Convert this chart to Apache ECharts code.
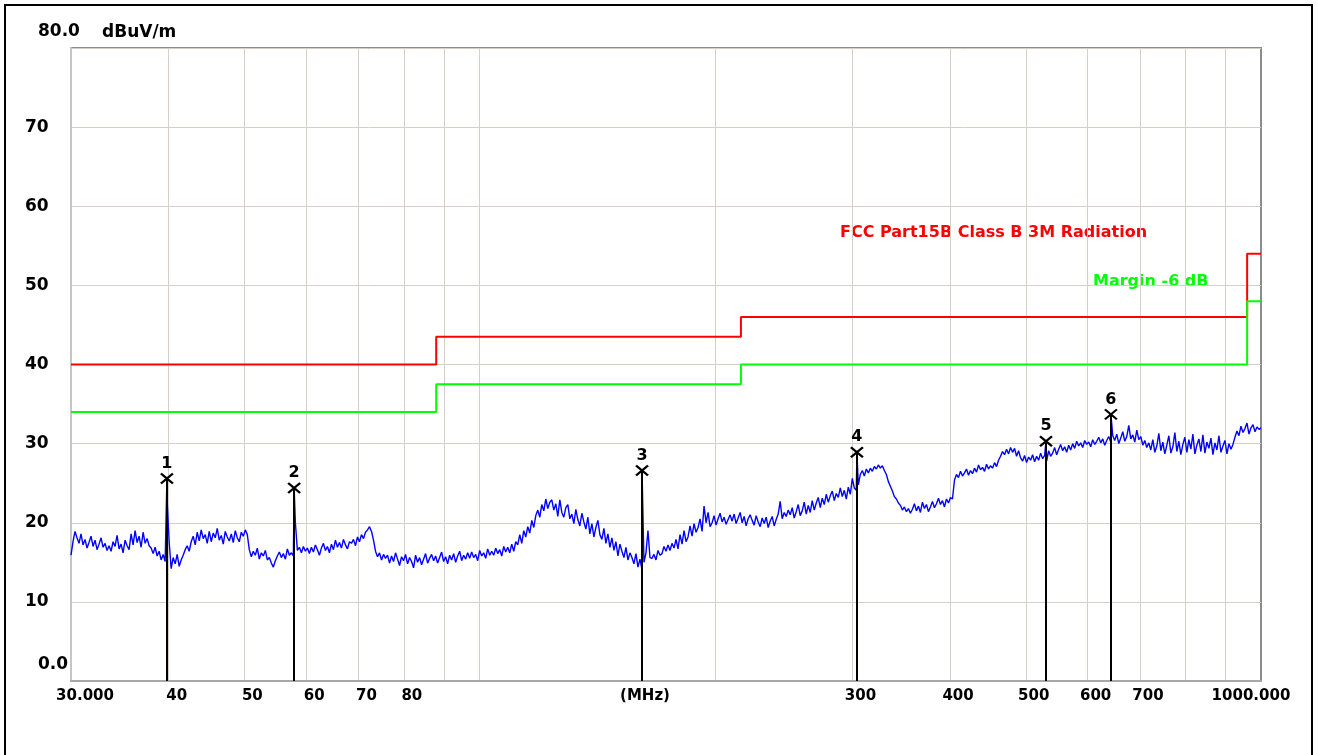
<!DOCTYPE html>
<html>
<head>
<meta charset="utf-8">
<script src="https://cdn.jsdelivr.net/npm/echarts@6/dist/echarts.min.js"></script>
<style>
  html, body { margin: 0; padding: 0; background: #ffffff; }
  #chart { width: 1318px; height: 755px; }
</style>
</head>
<body>
<div id="chart"></div>
<script>
// Receiver sweep: log-spaced points from start to stop frequency (MHz)
const sweepStartMHz = 30;
const sweepStopMHz = 1000;

// Peak-detected field strength along the sweep, dBuV/m
const traceLevels = [
  15.9, 17.6, 18.9, 18.1, 17.4, 18.6, 17.2, 17.9, 16.8, 17.5,
  18.3, 17.0, 17.8, 16.6, 17.3, 18.1, 16.9, 17.4, 16.5, 17.1,
  16.4, 17.6, 17.0, 18.4, 16.7, 17.3, 16.2, 17.8, 17.1, 16.6,
  18.6, 17.2, 19.0, 17.5, 18.3, 16.9, 18.8, 17.4, 18.0, 17.1,
  16.8, 16.1, 16.9, 15.8, 16.4, 15.3, 16.0, 15.1, 22.8, 17.6,
  14.2, 15.6, 14.8, 16.0, 14.5, 15.3, 15.9, 16.6, 17.1, 16.4,
  17.6, 18.3, 17.2, 18.8, 17.7, 19.1, 18.0, 18.5, 17.4, 18.9,
  17.6, 18.7, 18.1, 19.3, 17.8, 18.4, 17.3, 18.9, 18.2, 17.7,
  18.6, 17.5, 19.0, 18.1, 17.6, 18.8, 18.3, 19.1, 18.5, 16.6,
  15.7, 16.4, 15.9, 16.8, 15.4, 16.2, 15.8, 16.5, 15.3, 15.6,
  14.9, 14.4, 15.2, 15.8, 16.3, 15.6, 16.1, 15.4, 16.7, 15.9,
  16.2, 15.8, 20.0, 16.5, 16.9, 16.2, 17.0, 16.4, 16.8, 16.1,
  16.9, 16.3, 17.2, 16.6, 15.9, 16.8, 17.4, 16.5, 17.0, 16.2,
  17.3, 16.6, 17.8, 16.9, 17.5, 16.8, 17.9, 17.2, 16.7, 17.6,
  17.4, 17.9, 17.1, 18.2, 17.6, 18.5, 18.0, 18.8, 19.1, 19.5,
  18.9, 17.8, 16.4, 15.7, 16.2, 15.3, 16.0, 15.5, 15.9, 14.9,
  15.8, 15.1, 16.2, 15.4, 14.6, 15.7, 15.2, 16.0, 14.8, 15.6,
  15.1, 14.3, 15.9, 15.0, 15.6, 14.7, 15.4, 16.1, 14.9, 15.5,
  16.0, 15.2, 15.8, 14.9, 15.6, 16.3, 15.1, 15.7, 14.8, 15.9,
  15.3, 16.1, 15.0, 15.8, 16.4, 15.2, 15.9, 15.4, 16.2, 15.5,
  16.3, 15.6, 16.0, 15.2, 16.5, 15.8, 16.2, 15.5, 16.7, 15.9,
  16.4, 15.9, 16.8, 16.1, 16.6, 15.8, 17.0, 16.3, 16.9, 16.2,
  17.3, 16.4, 17.6, 17.2, 18.5, 17.4, 19.0, 18.2, 19.5, 18.7,
  20.3, 19.4, 20.9, 21.6, 20.7, 22.3, 21.5, 23.0, 21.8, 22.6,
  22.9, 21.6, 22.4, 20.8, 22.9, 21.3, 20.7, 21.9, 22.3, 20.5,
  21.1, 19.9, 21.7, 20.4, 19.6, 21.2, 20.1, 19.2, 20.7, 18.6,
  19.9, 18.2, 19.4, 20.3, 18.5, 17.9, 19.3, 17.4, 18.6, 16.9,
  18.1, 16.5, 17.6, 15.8, 17.3, 16.4, 15.6, 16.9, 15.3, 16.2,
  15.6, 14.8, 16.1, 14.4, 15.4, 14.1, 15.0, 16.2, 19.0, 15.6,
  15.5, 16.0, 15.3, 16.5, 15.9, 16.1, 17.0, 16.4, 17.2, 16.5,
  17.4, 16.8, 17.9, 16.7, 18.5, 17.3, 19.0, 17.6, 18.2, 19.6,
  18.3, 19.9, 18.8, 19.4, 20.5, 18.9, 22.1, 20.0, 21.3, 19.5,
  20.0, 20.9, 19.7, 20.5, 21.2, 20.1, 20.7, 19.8, 20.4, 21.0,
  20.2, 21.1, 19.9, 20.6, 21.3, 20.0, 20.8, 19.6, 20.5, 21.0,
  20.3, 19.7, 20.9, 20.1, 19.5, 20.6, 19.9, 20.7, 19.4, 20.2,
  20.8, 19.6, 20.4, 21.1, 22.7, 20.5, 21.3, 20.8, 21.6, 21.0,
  21.9, 20.6, 21.4, 22.3, 20.9, 21.5, 22.6, 21.1, 22.2, 21.3,
  22.8, 21.6, 22.5, 23.2, 21.9, 23.1, 22.3, 23.6, 22.6, 23.4,
  24.0, 22.8, 23.7, 23.2, 24.4, 23.3, 24.1, 23.0, 24.5, 23.6,
  25.6, 24.4, 24.1, 24.8, 26.1, 26.6, 25.9, 26.8, 26.3, 26.9,
  26.5, 27.1, 26.8, 27.3, 26.9, 27.2, 26.6, 26.1, 25.2, 24.6,
  24.0, 23.3, 23.0, 22.5, 22.2, 21.6, 22.0, 21.4, 21.8, 21.2,
  21.7, 22.4, 21.5, 22.1, 21.3, 22.6, 21.8, 22.3, 21.4, 22.0,
  22.7, 21.9, 22.4, 23.1, 22.3, 22.8, 22.0, 23.0, 22.5, 23.2,
  23.0, 25.4, 26.1, 25.7, 26.5, 25.9, 26.3, 26.8, 26.0, 26.6,
  26.2, 26.9, 26.4, 27.3, 26.7, 27.0, 26.5, 27.4, 26.8, 27.2,
  26.9, 27.6, 27.1, 27.9, 28.4, 29.0, 28.6, 29.3, 28.7, 29.5,
  28.9, 29.4, 28.4, 29.1, 28.2, 27.8, 28.5, 27.6, 28.3, 27.9,
  28.6, 27.7, 28.4, 27.9, 28.8, 28.1, 28.5, 27.8, 29.1, 28.4,
  28.8, 29.5, 28.6, 29.3, 29.9, 29.1, 29.6, 28.9, 29.8, 29.2,
  30.0, 29.4, 30.3, 29.7, 30.1, 29.5, 30.4, 29.9, 30.2, 29.6,
  30.5, 29.9, 30.3, 30.8, 30.1, 30.6, 29.8, 30.4, 30.9, 30.2,
  31.0, 30.4, 31.2, 30.0, 30.7, 31.5, 30.3, 30.9, 32.3, 30.6,
  31.1, 30.2, 31.7, 30.5, 30.9, 29.8, 30.4, 29.5, 30.1, 29.2,
  30.5, 28.9, 29.7, 31.3, 29.1, 30.2, 28.7, 29.8, 31.0, 28.8,
  29.6, 31.4, 29.0, 30.3, 28.6, 29.9, 30.8, 28.9, 30.5, 29.3,
  31.2, 28.7, 29.8, 30.6, 29.0, 31.1, 28.8, 30.2, 29.4, 30.7,
  28.6, 30.1, 29.2, 31.0, 28.9, 29.7, 30.4, 28.7, 30.0, 29.3,
  29.9, 30.8, 31.6, 31.0, 32.2, 31.4, 31.9, 32.6, 31.2, 32.0,
  32.4, 31.5, 32.1, 31.8, 32.0
];

// Peak markers: frequency (MHz), level (dBuV/m), label
const markerFreqs = [39.8, 57.9, 161.4, 304.0, 530.7, 642.6];
const markerLevels = [25.6, 24.4, 26.6, 28.9, 30.3, 33.7];
const markerNames = ['1', '2', '3', '4', '5', '6'];

// FCC Part 15B Class B, 3 m: band edges (MHz) and limit per band (dBuV/m)
const limitEdgesMHz = [30, 88, 216, 960, 1000];
const limitLevels = [40, 43.5, 46, 54];
const marginDb = -6;

// Axis ticks
const yTickMin = 0;
const yTickMax = 80;
const yTickStep = 10;
const xGridValues = [40, 50, 60, 70, 80, 90, 100, 200, 300, 400, 500, 600, 700, 800, 900];
const xLabelValues = [30, 40, 50, 60, 70, 80, 300, 400, 500, 600, 700, 1000];
const xLabelTexts = ['30.000', '40', '50', '60', '70', '80', '300', '400', '500', '600', '700', '1000.000'];

// ---- build series data ----
const n = traceLevels.length;
const sweepPoints = traceLevels.map((v, i) => [
  sweepStartMHz * Math.pow(sweepStopMHz / sweepStartMHz, i / (n - 1)), v
]);
const markerPoints = markerFreqs.map((f, i) => [f, markerLevels[i]]);
const tracePoints = sweepPoints.concat(markerPoints).sort((a, b) => a[0] - b[0]);

function stepLine(offset) {
  const pts = [];
  limitLevels.forEach((lv, i) => {
    pts.push([limitEdgesMHz[i], lv + offset]);
    pts.push([limitEdgesMHz[i + 1], lv + offset]);
  });
  return pts;
}

const FONT = 'DejaVu Sans';
const labelFor = {};
xLabelValues.forEach((v, i) => { labelFor[v] = xLabelTexts[i]; });

const chart = echarts.init(document.getElementById('chart'), null, { renderer: 'canvas' });

chart.setOption({
  animation: false,
  backgroundColor: '#ffffff',
  grid: {
    left: 71, right: 57, top: 48, bottom: 74,
    show: true, borderColor: '#8c8c8c', borderWidth: 2,
    outerBoundsMode: 'none'
  },
  xAxis: {
    type: 'log', logBase: 10, min: sweepStartMHz, max: sweepStopMHz,
    axisLine: { show: true, onZero: false, lineStyle: { color: '#a8a8a8', width: 2 } },
    axisTick: { show: false, customValues: xGridValues },
    splitLine: { show: true, lineStyle: { color: '#d4d0c8', width: 1 } },
    axisLabel: {
      customValues: xLabelValues,
      margin: 8,
      color: '#000', fontFamily: FONT, fontWeight: 'bold', fontSize: 15,
      formatter: function (v) {
        const key = Math.round(v);
        const t = labelFor[key] || String(key);
        if (key === sweepStartMHz) return '{first|' + t + '}';
        if (key === sweepStopMHz) return '{last|' + t + '}';
        return '{mid|' + t + '}';
      },
      rich: {
        first: { padding: [0, 0, 0, 28], color: '#000', fontFamily: FONT, fontWeight: 'bold', fontSize: 15 },
        last: { padding: [0, 20, 0, 0], color: '#000', fontFamily: FONT, fontWeight: 'bold', fontSize: 15 },
        mid: { padding: [0, 0, 0, 16], color: '#000', fontFamily: FONT, fontWeight: 'bold', fontSize: 15 }
      }
    },
    name: '(MHz)', nameLocation: 'middle', nameGap: 8, nameMoveOverlap: false,
    nameTextStyle: { color: '#000', fontFamily: FONT, fontWeight: 'bold', fontSize: 15, padding: [0, 42, 0, 0] }
  },
  yAxis: {
    type: 'value', min: yTickMin, max: yTickMax, interval: yTickStep,
    axisLine: { show: true, lineStyle: { color: '#c6c6c6', width: 2 } },
    axisTick: { show: false },
    splitLine: { show: true, lineStyle: { color: '#d4d0c8', width: 1 } },
    axisLabel: {
      margin: 46, align: 'left',
      color: '#000', fontFamily: FONT, fontWeight: 'bold', fontSize: 17,
      formatter: function (v) {
        if (v === yTickMin) return '{lo|' + v.toFixed(1) + '}';
        if (v === yTickMax) return '{hi|' + v.toFixed(1) + '}';
        return String(v);
      },
      rich: {
        lo: { padding: [0, 0, 33, 13], color: '#000', fontFamily: FONT, fontWeight: 'bold', fontSize: 17 },
        hi: { padding: [0, 0, 32, 13], color: '#000', fontFamily: FONT, fontWeight: 'bold', fontSize: 17 }
      }
    },
    name: 'dBuV/m', nameLocation: 'end', nameGap: 7,
    nameTextStyle: { color: '#000', fontFamily: FONT, fontWeight: 'bold', fontSize: 17, align: 'left', padding: [0, 0, 0, 31] }
  },
  series: [
    {
      name: 'Limit', type: 'line', data: stepLine(0), showSymbol: false, symbol: 'none',
      lineStyle: { color: '#ff0000', width: 2 }, z: 2, silent: true
    },
    {
      name: 'Margin', type: 'line', data: stepLine(marginDb), showSymbol: false, symbol: 'none',
      lineStyle: { color: '#00ff00', width: 2 }, z: 2, silent: true
    },
    {
      name: 'Marker lines', type: 'line', data: [], silent: true, z: 3,
      markLine: {
        silent: true, symbol: ['none', 'none'], animation: false,
        label: { show: false },
        lineStyle: { color: '#000', width: 2, type: 'solid' },
        data: markerFreqs.map((f, i) => [
          { coord: [f, markerLevels[i]] },
          { coord: [f, yTickMin] }
        ])
      }
    },
    {
      name: 'Trace', type: 'line', data: tracePoints, showSymbol: false, symbol: 'none',
      lineStyle: { color: '#0000ff', width: 1.4 }, z: 4, silent: true
    },
    {
      name: 'Markers', type: 'scatter', data: markerPoints, z: 5, silent: true,
      symbol: 'path://M0,0L10,8M10,0L0,8', symbolSize: [12, 10],
      itemStyle: { color: 'transparent', borderColor: '#000', borderWidth: 2.2, opacity: 1 },
      label: {
        show: true, position: 'top', distance: 1, opacity: 1,
        formatter: (p) => markerNames[p.dataIndex],
        color: '#000', fontFamily: FONT, fontWeight: 'bold', fontSize: 16
      }
    }
  ],
  graphic: [
    {
      type: 'rect', silent: true,
      shape: { x: 5, y: 5, width: 1307, height: 800 },
      style: { fill: 'transparent', stroke: '#000', lineWidth: 2 }
    },
    {
      type: 'text', x: 840, y: 233, silent: true,
      style: { text: 'FCC Part15B Class B 3M Radiation', fill: '#ff0000', font: 'bold 16px "DejaVu Sans"', verticalAlign: 'middle' }
    },
    {
      type: 'text', x: 1093, y: 282, silent: true,
      style: { text: 'Margin -6 dB', fill: '#00ff00', font: 'bold 16px "DejaVu Sans"', verticalAlign: 'middle' }
    }
  ]
});
</script>
</body>
</html>
